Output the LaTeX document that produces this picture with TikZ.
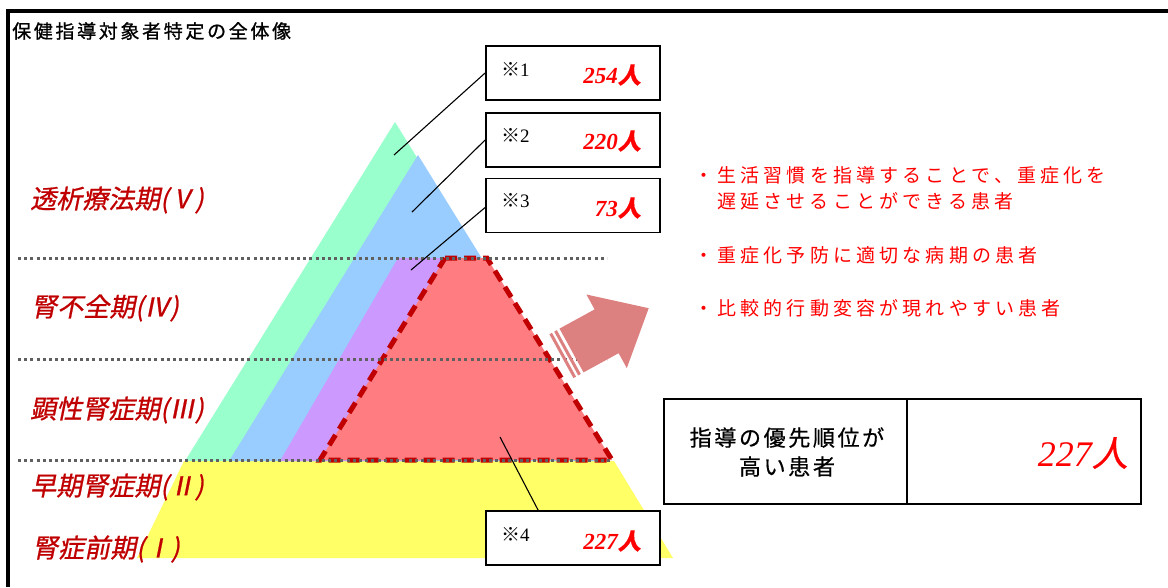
\documentclass[tikz,border=0pt]{standalone}
\usepackage{fontspec}
\setmainfont{Liberation Serif}
\newfontfamily\jp{Noto Sans CJK JP}
\newfontfamily\jpsl[FakeSlant=0.2,FakeBold=0.8]{Noto Sans CJK JP}
\newfontfamily\jpnum[FakeSlant=0.2,FakeBold=0.5]{Noto Sans CJK JP}
\newfontfamily\jpsp[LetterSpace=22]{Noto Sans CJK JP}
\newfontfamily\jpcell[LetterSpace=12,FakeBold=0.6]{Noto Sans CJK JP}
\newfontfamily\jptitle[LetterSpace=14,FakeBold=1]{Noto Sans CJK JP}
\newfontfamily\numf{Liberation Serif}
\definecolor{cgreen}{HTML}{99FFCC}
\definecolor{cblue}{HTML}{99CCFF}
\definecolor{cpurple}{HTML}{CC99FF}
\definecolor{cred}{HTML}{FF7C80}
\definecolor{cyellow}{HTML}{FFFF66}
\definecolor{dkred}{HTML}{C00000}
\definecolor{arrowc}{HTML}{DD8080}
\definecolor{dotc}{HTML}{606060}
\definecolor{txtred}{HTML}{FF0000}
\tikzset{
  stagelabel/.style={anchor=west,inner sep=0pt,text=dkred,font=\fontsize{26}{30}\selectfont\jpsl},
  countbox/.style={draw=black,line width=1.8pt,fill=white,minimum width=174pt,minimum height=54pt,inner sep=0pt},
  marktext/.style={anchor=west,inner sep=0pt,font=\fontsize{19}{22}\selectfont},
  numtext/.style={anchor=east,inner sep=0pt,text=txtred,font=\fontsize{23}{26}\selectfont\numf\bfseries\itshape},
  bullettext/.style={anchor=west,inner sep=0pt,text=txtred,font=\fontsize{19}{22}\selectfont\jpsp},
  leader/.style={draw=black,line width=1.1pt},
  dotline/.style={draw=dotc,line width=3pt,dash pattern=on 3pt off 3.2pt},
  cellbox/.style={draw=black,line width=1.8pt,minimum height=105pt,inner sep=0pt},
}
\begin{document}
\begin{tikzpicture}[x=1pt,y=-1pt]
\useasboundingbox (0,0) rectangle (1168,587);
% stages
\fill[cyellow] (184,461) -- (137,558) -- (673,558) -- (614,461) -- cycle;
\fill[cgreen] (395,122) -- (185,461) -- (605,461) -- cycle;
\fill[cblue] (418,155) -- (229,461) -- (607,461) -- cycle;
\fill[cpurple] (398,258) -- (280,461) -- (420,461) -- (475,258) -- cycle;
\filldraw[fill=cred,draw=dkred,line width=5pt,dash pattern=on 12pt off 7pt]
  (445,258) -- (487,258) -- (612,460) -- (320,460) -- cycle;
% dotted stage separators
\draw[dotline] (18,258) -- (607,258);
\draw[dotline] (18,359) -- (607,359);
\draw[dotline] (18,460) -- (612,460);
% arrow
\fill[arrowc] (559.5,328.6) -- (594.6,309.4) -- (586.4,294.5) -- (648.7,308.2)
  -- (626.8,368.1) -- (618.6,353.2) -- (583.5,372.4) -- cycle;
\fill[arrowc] (556.8,330.1) -- (580.8,373.9) -- (578.2,375.4) -- (554.2,331.6) -- cycle;
\fill[arrowc] (552.0,332.8) -- (576.0,376.6) -- (573.4,378.1) -- (549.4,334.3) -- cycle;
% stage labels
\node[stagelabel] (s5) at (30,200) {透析療法期(Ⅴ)};
\node[stagelabel] (s4) at (31,308) {腎不全期(Ⅳ)};
\node[stagelabel] (s3) at (30,410) {顕性腎症期(Ⅲ)};
\node[stagelabel] (s2) at (30,487) {早期腎症期(Ⅱ)};
\node[stagelabel] (s1) at (32,549) {腎症前期(Ⅰ)};
% count boxes
\node[countbox] (b1) at (573,73) {};
\node[countbox] (b2) at (573,140) {};
\node[countbox] (b3) at (573,205.5) {};
\node[countbox] (b4) at (573,538) {};
\node[marktext] (m1) at (501,69) {{\jp ※}1};
\node[marktext] (m2) at (501,135) {{\jp ※}2};
\node[marktext] (m3) at (501,201) {{\jp ※}3};
\node[marktext] (m4) at (501,534) {{\jp ※}4};
\node[numtext] (n1) at (641,75) {254{\jpnum 人}};
\node[numtext] (n2) at (641,141) {220{\jpnum 人}};
\node[numtext] (n3) at (641,208) {73{\jpnum 人}};
\node[numtext] (n4) at (641,541) {227{\jpnum 人}};
% leader lines
\coordinate (p1) at (394,155);
\coordinate (p2) at (412,212);
\coordinate (p3) at (411,270);
\coordinate (p4) at (500,437);
\draw[leader] (b1.west) -- (p1);
\draw[leader] (b2.west) -- (p2);
\draw[leader] ([yshift=-2pt]b3.west) -- (p3);
\draw[leader] ([xshift=53pt]b4.north west) -- (p4);
% right-hand bullet texts
\node[bullettext] (t1) at (694,175) {・生活習慣を指導することで、重症化を};
\node[bullettext] (t1b) at (717,201) {遅延させることができる患者};
\node[bullettext] (t2) at (694,255) {・重症化予防に適切な病期の患者};
\node[bullettext] (t3) at (694,308) {・比較的行動変容が現れやすい患者};
% priority box
\node[cellbox,minimum width=243pt] (cl) at (785.5,451.5) {};
\node[cellbox,minimum width=234pt] (cr) at (1024,451.5) {};
\node[inner sep=0pt,font=\fontsize{22}{29}\selectfont\jpcell,align=center] (clt) at (787,452) {指導の優先順位が\\高い患者};
\node[anchor=east,inner sep=0pt,text=txtred,font=\fontsize{36}{40}\selectfont\numf\itshape] (crt) at (1128,453) {227{\jpnum 人}};
% title
\node[anchor=west,inner sep=0pt,font=\fontsize{19}{22}\selectfont\jptitle] (title) at (12,31) {保健指導対象者特定の全体像};
% frame
\coordinate (ftl) at (8,11);
\coordinate (ftr) at (1168,11);
\coordinate (fbl) at (8,587);
\draw[line width=4pt] (ftr) -- (ftl) -- (fbl);
\end{tikzpicture}
\end{document}
